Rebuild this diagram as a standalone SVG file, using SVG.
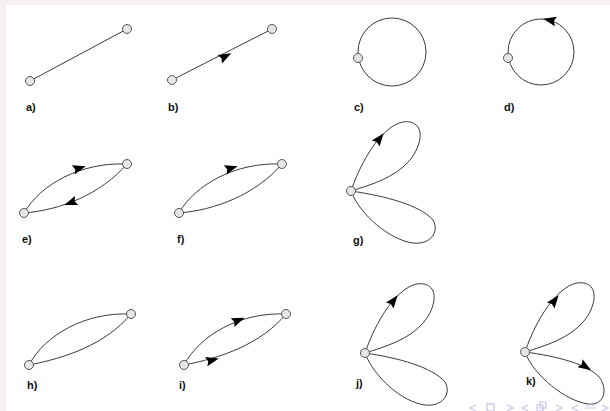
<svg xmlns="http://www.w3.org/2000/svg" xmlns:xlink="http://www.w3.org/1999/xlink" width="610" height="411" viewBox="0 0 610 411">
<style>
.e{fill:none;stroke:#3a3a3a;stroke-width:1}
.n{fill:#e6e6e6;stroke:#555;stroke-width:1}
.l{font-family:"Liberation Sans",Arial,sans-serif;font-size:11px;font-weight:bold;fill:#111}
.a{fill:#000}
.nav{fill:none;stroke:#c4c4ea;stroke-width:1.2}
</style>
<defs>
<path id="ah" d="M6,0 L-7,-4.8 L-5,0 L-7,4.8 Z"/>
<circle id="nd" r="4.5"/>
</defs>
<rect width="610" height="411" fill="#f6f0f4"/>
<rect x="6" y="5" width="604" height="406" fill="#fff"/>
<g id="connectors">
<!-- a -->
<path class="e" d="M30,81 L127,29"/>
<!-- b -->
<path class="e" d="M172,80 L272,29"/>
<use href="#ah" class="a" transform="translate(226,56) rotate(-27)"/>
<!-- c -->
<circle class="e" cx="392" cy="52" r="34"/>
<!-- d -->
<circle class="e" cx="541" cy="52" r="33"/>
<use href="#ah" class="a" transform="translate(549,20) rotate(-168)"/>
<!-- e -->
<path class="e" d="M24,213 C40,185 80,162 127,164"/>
<path class="e" d="M24,213 C60,210 100,195 127,164"/>
<use href="#ah" class="a" transform="translate(80,168) rotate(-16)"/>
<use href="#ah" class="a" transform="translate(70,203) rotate(160)"/>
<!-- f -->
<path class="e" d="M179,213 C195,185 235,162 282,164"/>
<path class="e" d="M179,213 C215,210 255,195 282,164"/>
<use href="#ah" class="a" transform="translate(232,168) rotate(-16)"/>
<!-- g -->
<path class="e" d="M351,191 C365,150 390,118 410,122 C425,125 422,145 410,160 C395,178 370,185 351,191"/>
<path class="e" d="M351,191 C385,196 420,205 433,220 C440,232 430,245 413,243 C390,240 360,215 351,191"/>
<use href="#ah" class="a" transform="translate(380,138) rotate(-52)"/>
<!-- h -->
<path class="e" d="M29,365 C45,335 85,312 131,314"/>
<path class="e" d="M29,365 C65,358 105,345 131,314"/>
<!-- i -->
<path class="e" d="M184,365 C200,335 240,312 286,314"/>
<path class="e" d="M184,365 C220,358 260,345 286,314"/>
<use href="#ah" class="a" transform="translate(239,320) rotate(-22)"/>
<use href="#ah" class="a" transform="translate(213,360) rotate(-14)"/>
<!-- j -->
<path class="e" d="M365,353 C379,312 404,280 424,284 C439,287 436,307 424,322 C409,340 384,347 365,353"/>
<path class="e" d="M365,353 C399,358 432,367 445,382 C452,394 442,407 425,405 C402,402 374,377 365,353"/>
<use href="#ah" class="a" transform="translate(394,300) rotate(-52)"/>
<!-- k -->
<path class="e" d="M525,352 C539,311 564,279 584,283 C599,286 596,306 584,321 C569,339 544,346 525,352"/>
<path class="e" d="M525,352 C556,356 588,364 600,378 C608,390 604,406 588,404 C566,401 534,376 525,352"/>
<use href="#ah" class="a" transform="translate(555,300) rotate(-52)"/>
<use href="#ah" class="a" transform="translate(586,367) rotate(32)"/>
</g>
<g id="node-a1"><use href="#nd" class="n" x="30" y="81"/></g>
<g id="node-a2"><use href="#nd" class="n" x="127" y="29"/></g>
<g id="node-b1"><use href="#nd" class="n" x="172" y="80"/></g>
<g id="node-b2"><use href="#nd" class="n" x="272" y="29"/></g>
<g id="node-c"><use href="#nd" class="n" x="358" y="58"/></g>
<g id="node-d"><use href="#nd" class="n" x="508" y="58"/></g>
<g id="node-e1"><use href="#nd" class="n" x="24" y="213"/></g>
<g id="node-e2"><use href="#nd" class="n" x="127" y="164"/></g>
<g id="node-f1"><use href="#nd" class="n" x="179" y="213"/></g>
<g id="node-f2"><use href="#nd" class="n" x="282" y="164"/></g>
<g id="node-g"><use href="#nd" class="n" x="351" y="191"/></g>
<g id="node-h1"><use href="#nd" class="n" x="29" y="365"/></g>
<g id="node-h2"><use href="#nd" class="n" x="131" y="314"/></g>
<g id="node-i1"><use href="#nd" class="n" x="184" y="365"/></g>
<g id="node-i2"><use href="#nd" class="n" x="286" y="314"/></g>
<g id="node-j"><use href="#nd" class="n" x="365" y="353"/></g>
<g id="node-k"><use href="#nd" class="n" x="525" y="352"/></g>
<g id="labels">
<text class="l" x="26" y="111">a)</text>
<text class="l" x="168" y="111">b)</text>
<text class="l" x="354" y="111">c)</text>
<text class="l" x="504" y="111">d)</text>
<text class="l" x="22" y="243">e)</text>
<text class="l" x="177" y="243">f)</text>
<text class="l" x="353" y="244">g)</text>
<text class="l" x="27" y="389">h)</text>
<text class="l" x="179" y="389">i)</text>
<text class="l" x="356" y="387">j)</text>
<text class="l" x="526" y="385">k)</text>
</g>
<g id="nav">
<path class="nav" d="M476,405 L470,408 L476,411"/>
<rect class="nav" x="487" y="404" width="7" height="7"/>
<path class="nav" d="M507,405 L513,408 L507,411"/>
<path class="nav" d="M528,405 L522,408 L528,411"/>
<rect class="nav" x="537" y="405" width="6" height="6"/>
<rect class="nav" x="540" y="402" width="6" height="6"/>
<path class="nav" d="M556,405 L562,408 L556,411"/>
<path class="nav" d="M578,405 L572,408 L578,411"/>
<path class="nav" d="M585,405 H596 M585,408 H596"/>
<path class="nav" d="M602,405 L608,408 L602,411"/>
</g>
</svg>
